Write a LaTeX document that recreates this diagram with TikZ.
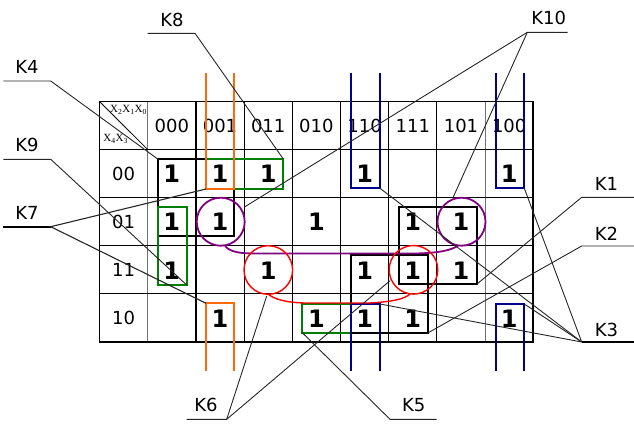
\documentclass[tikz,border=0pt]{standalone}
\usepackage{fontspec}
\setmainfont{DejaVu Sans}
\newfontfamily\cornerfont{Liberation Serif}
\definecolor{kor}{RGB}{255,105,10}
\definecolor{kgr}{RGB}{0,128,0}
\definecolor{kbl}{RGB}{0,0,140}
\definecolor{kpu}{RGB}{128,0,128}
\definecolor{kre}{RGB}{255,0,0}
\begin{document}
\begin{tikzpicture}[x=1pt,y=-1pt,
  gridline/.style={line width=1pt,black},
  graygrid/.style={line width=1pt,black!55},
  border/.style={line width=1.7pt,black},
  hdr/.style={font=\fontsize{18}{18}\selectfont,inner sep=0pt},
  one/.style={font=\fontsize{24}{24}\selectfont\bfseries,inner sep=0pt},
  klabel/.style={font=\fontsize{18}{18}\selectfont,inner sep=0pt},
  corner/.style={font=\cornerfont\fontsize{11}{11}\selectfont,inner sep=0pt},
  leader/.style={line width=0.9pt,black!85},
  grpbk/.style={line width=1.8pt,black},
  grpgr/.style={line width=1.8pt,kgr},
  grpor/.style={line width=1.8pt,kor},
  grpbl/.style={line width=1.8pt,kbl},
  grppu/.style={line width=1.8pt,kpu},
  grpre/.style={line width=1.4pt,kre}]
\useasboundingbox (0,0) rectangle (634,423);
% grid
\foreach \i in {1,2,3,4,5,6,7,8} {
  \pgfmathsetmacro{\xx}{99.5+48.2*\i}
  \ifnum\i=1 \draw[graygrid] (\xx,101.5) -- (\xx,342);
  \else\ifnum\i=8 \draw[graygrid] (\xx,101.5) -- (\xx,342);
  \else \draw[gridline] (\xx,101.5) -- (\xx,342); \fi\fi
}
\draw[line width=1.6pt] (196.2,101.5) -- (196.2,342);
\draw[line width=1.6pt] (340.5,101.5) -- (340.5,342);
\foreach \j in {1,2,3,4} {
  \pgfmathsetmacro{\yy}{101.5+48.1*\j}
  \draw[gridline] (99.5,\yy) -- (533.3,\yy);
}
\draw[border] (99.5,101.5) rectangle (533.3,342);
\draw[line width=0.8pt] (99.5,101.5) -- (147.7,149.6);
\node[corner] (cx) at (128.5,110) {X\textsubscript{2}X\textsubscript{1}X\textsubscript{0}};
\node[corner] (cy) at (115.7,139) {X\textsubscript{4}X\textsubscript{3}};
% headers
\foreach \t [count=\i from 1] in {000,001,011,010,110,111,101,100} {
  \node[hdr] (h\i) at (99.5+48.2*\i+24.1,126) {\t};
}
\foreach \t [count=\j from 1] in {00,01,11,10} {
  \node[hdr] (r\j) at (123.6,101.5+48.1*\j+24.05) {\t};
}
% ones: (col,row)
\foreach \c/\r in {1/1,2/1,3/1,5/1,8/1, 1/2,2/2,4/2,6/2,7/2, 1/3,3/3,5/3,6/3,7/3, 2/4,4/4,5/4,6/4,8/4} {
  \node[one] (o\c\r) at (99.5+48.2*\c+24.1,101.5+48.1*\r+24.5) {1};
}
% groups
\draw[grpbk] (157.7,159) rectangle (234.3,235.7);
\draw[grpgr] (206,159) rectangle (283.3,189);
\draw[grpgr] (157.7,207.3) rectangle (186.7,285);
\draw[grpgr] (302.3,304) rectangle (380,332.7);
\draw[grpbk] (399.3,207.3) rectangle (476.7,284.3);
\draw[grpbk] (350.7,255.3) rectangle (428.3,332.7);
% orange wrap group
\draw[grpor] (206,72.7) -- (206,189) -- (234.3,189) -- (234.3,72.7);
\draw[grpor] (206,370.7) -- (206,303.3) -- (234.3,303.3) -- (234.3,370.7);
% blue corners group
\draw[grpbl] (350.7,72.7) -- (350.7,188.3) -- (380,188.3) -- (380,72.7);
\draw[grpbl] (495.7,72.7) -- (495.7,188.3) -- (524.3,188.3) -- (524.3,72.7);
\draw[grpbl] (350.7,370.7) -- (350.7,304) -- (380,304) -- (380,370.7);
\draw[grpbl] (495.7,370.7) -- (495.7,304) -- (524.3,304) -- (524.3,370.7);
% purple
\draw[grppu] (220.7,221.7) circle[radius=24];
\draw[grppu] (461.5,221.7) circle[radius=24];
\draw[grppu] (225,246) .. controls (230,252) and (240,253.5) .. (255,253.5) -- (415,253.5) .. controls (440,253) and (452,250) .. (458,245.5);
% red
\draw[grpre] (268.3,270) circle[radius=24.3];
\draw[grpre] (413.5,269.8) circle[radius=24.3];
\draw[grpre] (268,294) .. controls (274,299) and (285,302.5) .. (305,303) -- (370,303) .. controls (395,301.5) and (405,298.5) .. (410,294);
% labels
\node[klabel] (K8) at (172,19.7) {K8};
\node[klabel] (K4) at (27,67) {K4};
\node[klabel] (K10) at (548.7,17.8) {K10};
\node[klabel] (K9) at (27,144.7) {K9};
\node[klabel] (K7) at (27,212.5) {K7};
\node[klabel] (K1) at (606.5,184) {K1};
\node[klabel] (K2) at (606.5,233.8) {K2};
\node[klabel] (K3) at (606.5,330.3) {K3};
\node[klabel] (K6) at (206,405) {K6};
\node[klabel] (K5) at (413.8,405) {K5};
% leader coordinates
\coordinate (K8a) at (147.7,33.3); \coordinate (K8b) at (195,33.3); \coordinate (g8) at (283.3,159);
\coordinate (K4a) at (3.3,81); \coordinate (K4b) at (50.7,81); \coordinate (g4) at (157.7,159);
\coordinate (K10a) at (567.7,32.3); \coordinate (K10b) at (527.3,32.3);
\coordinate (g10a) at (244,207.3); \coordinate (g10b) at (452.7,198.3);
\coordinate (K9a) at (3.3,159.3); \coordinate (K9b) at (50.7,159.3); \coordinate (g9) at (186.7,285);
\coordinate (K7a) at (3.3,226.7); \coordinate (K7b) at (50.7,226.7);
\coordinate (g7a) at (206,189); \coordinate (g7b) at (206,303.3);
\coordinate (K1a) at (634,197.3); \coordinate (K1b) at (581.7,197.3); \coordinate (g1) at (476.7,284.3);
\coordinate (K2a) at (634,246); \coordinate (K2b) at (581.7,246); \coordinate (g2) at (428.3,332.7);
\coordinate (K3a) at (634,342); \coordinate (K3b) at (581.7,342);
\coordinate (g3a) at (380,188.3); \coordinate (g3b) at (524.3,188.3);
\coordinate (g3c) at (380,304); \coordinate (g3d) at (524.3,304);
\coordinate (K6a) at (186.7,419.3); \coordinate (K6b) at (226.7,419.3);
\coordinate (g6a) at (266.7,296); \coordinate (g6b) at (390,280.7);
\coordinate (K5a) at (436.7,419.3); \coordinate (K5b) at (390,419.3); \coordinate (g5) at (302.3,332.7);
% leaders
\draw[leader] (K8a) -- (K8b) -- (g8);
\draw[leader] (K4a) -- (K4b) -- (g4);
\draw[leader] (K10a) -- (K10b) -- (g10a);
\draw[leader] (K10b) -- (g10b);
\draw[leader] (K9a) -- (K9b) -- (g9);
\draw[leader,line width=1.6pt,black] (K7a) -- (K7b);
\draw[leader,line width=1.1pt] (K7b) -- (g7a);
\draw[leader,line width=1.1pt] (K7b) -- (g7b);
\draw[leader] (K1a) -- (K1b) -- (g1);
\draw[leader] (K2a) -- (K2b) -- (g2);
\draw[leader,line width=1.6pt,black] (K3a) -- (K3b);
\draw[leader] (K3b) -- (g3a);
\draw[leader] (K3b) -- (g3b);
\draw[leader] (K3b) -- (g3c);
\draw[leader] (K3b) -- (g3d);
\draw[leader] (K6a) -- (K6b) -- (g6a);
\draw[leader] (K6b) -- (g6b);
\draw[leader] (K5a) -- (K5b) -- (g5);
\end{tikzpicture}
\end{document}
